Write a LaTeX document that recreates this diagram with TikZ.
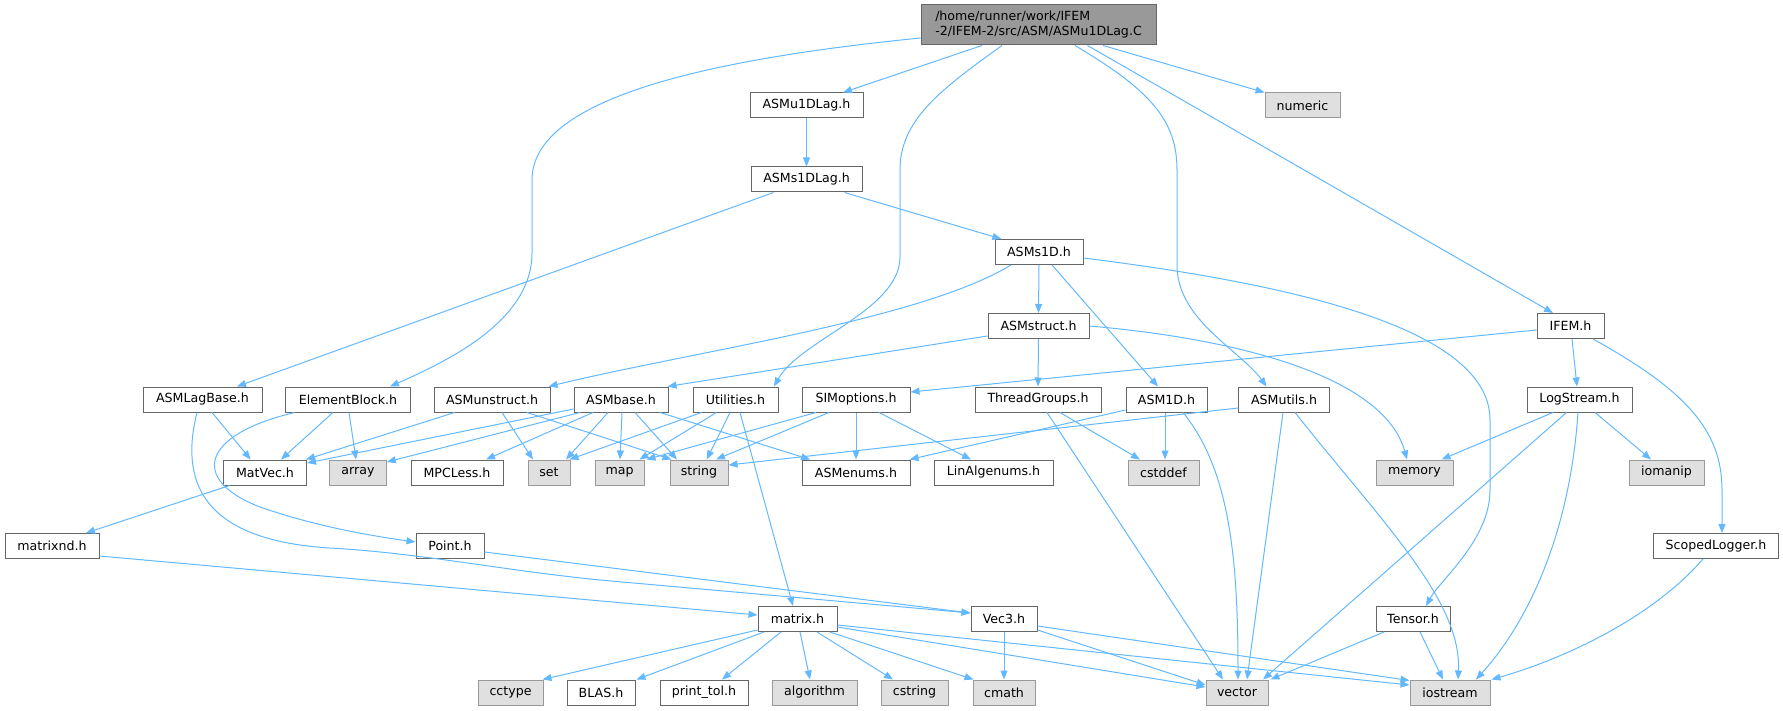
\documentclass[tikz,border=0pt]{standalone}
\usepackage{fontspec}
\setmainfont{DejaVu Sans}
\usetikzlibrary{arrows.meta}
\definecolor{edgec}{HTML}{63B8FF}
\definecolor{bordc}{HTML}{666666}
\definecolor{sysbord}{HTML}{999999}
\definecolor{sysfill}{HTML}{E0E0E0}
\definecolor{rootfill}{HTML}{999999}
\newcommand{\nodefnt}{\fontsize{12.6}{15}\selectfont}
\tikzset{
  box/.style={draw=bordc, fill=white, line width=1pt, minimum height=25pt, inner sep=0pt, font=\nodefnt, text=black},
  sysbox/.style={box, draw=sysbord, fill=sysfill},
  rootbox/.style={box, fill=rootfill, minimum height=40pt, align=left},
  e/.style={draw=edgec, line width=1pt, -{Triangle[length=9pt,width=7pt]}},
}
\begin{document}
\begin{tikzpicture}[x=1pt,y=-1pt]
\useasboundingbox (0,0) rectangle (1783,711);
% row 0
\node[rootbox, minimum width=235pt] (root) at (1038.5,25) {/home/runner/work/IFEM\\-2/IFEM-2/src/ASM/ASMu1DLag.C};
% row 1
\node[box, minimum width=113pt] (asmu) at (806.5,105.5) {ASMu1DLag.h};
\node[sysbox, minimum width=75pt] (numeric) at (1302.5,105.5) {numeric};
% row 2
\node[box, minimum width=111pt] (asms1dlag) at (806.5,179.5) {ASMs1DLag.h};
% row 3
\node[box, minimum width=88pt] (asms1d) at (1039,252) {ASMs1D.h};
% row 4
\node[box, minimum width=101pt] (asmstruct) at (1038.5,326) {ASMstruct.h};
\node[box, minimum width=67pt] (ifem) at (1570.5,326) {IFEM.h};
% row 5
\node[box, minimum width=119pt] (asmlagbase) at (202.5,399.5) {ASMLagBase.h};
\node[box, minimum width=124.5pt] (elementblock) at (348,399.5) {ElementBlock.h};
\node[box, minimum width=116pt] (asmunstruct) at (492,399.5) {ASMunstruct.h};
\node[box, minimum width=94pt] (asmbase) at (621,399.5) {ASMbase.h};
\node[box, minimum width=85pt] (utilities) at (735.5,399.5) {Utilities.h};
\node[box, minimum width=108pt] (simoptions) at (856,399.5) {SIMoptions.h};
\node[box, minimum width=126pt] (threadgroups) at (1038,399.5) {ThreadGroups.h};
\node[box, minimum width=81pt] (asm1d) at (1166.5,399.5) {ASM1D.h};
\node[box, minimum width=90.5pt] (asmutils) at (1284,399.5) {ASMutils.h};
\node[box, minimum width=105pt] (logstream) at (1579.5,399.5) {LogStream.h};
% row 6
\node[box, minimum width=83pt] (matvec) at (265,472.5) {MatVec.h};
\node[sysbox, minimum width=56.5pt] (array) at (358,472.5) {array};
\node[box, minimum width=92pt] (mpcless) at (457,472.5) {MPCLess.h};
\node[sysbox, minimum width=42pt] (set) at (549,472.5) {set};
\node[sysbox, minimum width=49pt] (map) at (619.5,472.5) {map};
\node[sysbox, minimum width=58pt] (string) at (699,472.5) {string};
\node[box, minimum width=108pt] (asmenums) at (856,472.5) {ASMenums.h};
\node[box, minimum width=119pt] (linalgenums) at (993.5,472.5) {LinAlgenums.h};
\node[sysbox, minimum width=71pt] (cstddef) at (1163.5,472.5) {cstddef};
\node[sysbox, minimum width=77pt] (memory) at (1414.5,472.5) {memory};
\node[sysbox, minimum width=75pt] (iomanip) at (1666.5,472.5) {iomanip};
% row 7
\node[box, minimum width=94pt] (matrixnd) at (52,546) {matrixnd.h};
\node[box, minimum width=68pt] (point) at (450,546) {Point.h};
\node[box, minimum width=125pt] (scopedlogger) at (1716,546) {ScopedLogger.h};
% row 8
\node[box, minimum width=79pt] (matrix) at (797.5,619) {matrix.h};
\node[box, minimum width=66pt] (vec3) at (1004,619) {Vec3.h};
\node[box, minimum width=74pt] (tensor) at (1413,619) {Tensor.h};
% row 9
\node[sysbox, minimum width=65pt] (cctype) at (510.5,692.5) {cctype};
\node[box, minimum width=68pt] (blas) at (601,692.5) {BLAS.h};
\node[box, minimum width=88pt] (printtol) at (704,692.5) {print\_tol.h};
\node[sysbox, minimum width=85pt] (algorithm) at (814.5,692.5) {algorithm};
\node[sysbox, minimum width=67pt] (cstring) at (914.5,692.5) {cstring};
\node[sysbox, minimum width=62pt] (cmath) at (1004,692.5) {cmath};
\node[sysbox, minimum width=62pt] (vector) at (1237,692.5) {vector};
\node[sysbox, minimum width=80pt] (iostream) at (1450,692.5) {iostream};

% ---- edges from root
\draw[e] ([xshift=-56.5pt]root.south) -- ([xshift=36.5pt]asmu.north);
\draw[e] ([yshift=-13pt]root.west) .. controls (700,60) and (532,100) .. (532,180) -- (532,253) .. controls (532,320) and (450,360) .. ([xshift=42pt]elementblock.north);
\draw[e] ([xshift=-36.5pt]root.south) .. controls (940,90) and (900,120) .. (900,170) -- (900,257) .. controls (900,310) and (800,340) .. ([xshift=38.5pt]utilities.north);
\draw[e] ([xshift=36.5pt]root.south) .. controls (1150,90) and (1177,120) .. (1177,170) -- (1177,265) .. controls (1177,320) and (1240,350) .. ([xshift=-17.5pt]asmutils.north);
\draw[e] ([xshift=49pt]root.south) -- ([xshift=-17.5pt]ifem.north);
\draw[e] ([xshift=64.5pt]root.south) -- ([xshift=-38pt]numeric.north);
% ---- upper chain
\draw[e] (asmu.south) -- (asms1dlag.north);
\draw[e] ([xshift=-33pt]asms1dlag.south) -- ([xshift=34.5pt]asmlagbase.north);
\draw[e] ([xshift=38pt]asms1dlag.south) -- ([xshift=-37.6pt]asms1d.north);
\draw[e] ([xshift=-28pt]asms1d.south) .. controls (920,320) and (700,350) .. ([xshift=-2pt]asmunstruct.north east);
\draw[e] (asms1d.south) -- (asmstruct.north);
\draw[e] ([xshift=13pt]asms1d.south) -- ([xshift=-8.5pt]asm1d.north);
\draw[e] ([yshift=-6pt]asms1d.east) .. controls (1300,285) and (1490,330) .. (1490,420) -- (1490,490) .. controls (1490,540) and (1440,580) .. ([xshift=13pt]tensor.north);
\draw[e] ([yshift=-10pt]asmstruct.west) -- ([xshift=-1pt]asmbase.north east);
\draw[e] (asmstruct.south) -- (threadgroups.north);
\draw[e] (asmstruct.east) .. controls (1250,340) and (1385,380) .. ([xshift=-7.5pt]memory.north);
\draw[e] ([yshift=-4pt]ifem.west) -- ([yshift=7.5pt]simoptions.east);
\draw[e] ([xshift=1.5pt]ifem.south) -- ([xshift=-2.5pt]logstream.north);
\draw[e] ([xshift=22.5pt]ifem.south) .. controls (1685,390) and (1722,430) .. (1722,490) -- ([xshift=6pt]scopedlogger.north);
% ---- row 5 sources
\draw[e] ([xshift=9.5pt]asmlagbase.south) -- ([xshift=-14.3pt]matvec.north);
\draw[e] ([xshift=-5.5pt]asmlagbase.south) .. controls (180,480) and (200,540) .. (330,548) .. controls (420,553) and (500,570) .. (600,580) -- ([yshift=6pt]vec3.west);
\draw[e] ([xshift=-15pt]elementblock.south) -- ([xshift=16pt]matvec.north);
\draw[e] ([xshift=1pt]elementblock.south) -- ([xshift=-2pt]array.north);
\draw[e] ([xshift=-53.3pt]elementblock.south) .. controls (200,435) and (190,480) .. (260,507) .. controls (320,528) and (380,537) .. ([yshift=4pt]point.west);
\draw[e] ([xshift=-37.4pt]asmunstruct.south) -- ([xshift=-1pt]matvec.north east);
\draw[e] ([xshift=10pt]asmunstruct.south) -- ([xshift=-16pt]set.north);
\draw[e] ([xshift=35pt]asmunstruct.south) -- ([xshift=2pt]string.north west);
\draw[e] ([yshift=-9.5pt]asmbase.west) -- ([yshift=9.5pt]matvec.east);
\draw[e] ([xshift=-41pt]asmbase.south) -- ([yshift=10.5pt]array.east);
\draw[e] ([xshift=-28pt]asmbase.south) -- ([xshift=29pt]mpcless.north);
\draw[e] ([xshift=-13pt]asmbase.south) -- ([xshift=17pt]set.north);
\draw[e] ([xshift=1pt]asmbase.south) -- ([xshift=0.5pt]map.north);
\draw[e] ([xshift=14pt]asmbase.south) -- ([xshift=-22pt]string.north);
\draw[e] ([xshift=39pt]asmbase.south) -- ([xshift=-46pt]asmenums.north);
\draw[e] ([xshift=-34pt]utilities.south) -- ([xshift=-1pt]set.north east);
\draw[e] ([xshift=-19pt]utilities.south) -- ([xshift=20pt]map.north);
\draw[e] ([xshift=-5.5pt]utilities.south) -- ([xshift=7.7pt]string.north);
\draw[e] ([xshift=4.5pt]utilities.south) -- ([xshift=-4.5pt]matrix.north);
\draw[e] ([xshift=-40pt]simoptions.south) -- ([xshift=2pt]map.north east);
\draw[e] ([xshift=-27pt]simoptions.south) -- ([xshift=17pt]string.north);
\draw[e] (simoptions.south) -- (asmenums.north);
\draw[e] ([xshift=23pt]simoptions.south) -- ([xshift=-22.5pt]linalgenums.north);
\draw[e] ([xshift=22pt]threadgroups.south) -- ([xshift=-23.5pt]cstddef.north);
\draw[e] ([xshift=9pt]threadgroups.south) -- ([xshift=-14pt]vector.north);
\draw[e] ([yshift=-10.5pt]asm1d.west) -- ([xshift=-1pt]asmenums.north east);
\draw[e] ([xshift=-1.5pt]asm1d.south) -- ([xshift=1.5pt]cstddef.north);
\draw[e] ([xshift=16.5pt]asm1d.south) .. controls (1230,470) and (1238,560) .. ([xshift=1pt]vector.north);
\draw[e] ([yshift=-8.5pt]asmutils.west) -- ([yshift=7.5pt]string.east);
\draw[e] ([xshift=-1pt]asmutils.south) -- ([xshift=10pt]vector.north);
\draw[e] ([xshift=11pt]asmutils.south) .. controls (1380,520) and (1462,600) .. ([xshift=8pt]iostream.north);
\draw[e] ([xshift=-26.5pt]logstream.south) -- ([xshift=27pt]memory.north);
\draw[e] ([xshift=-13pt]logstream.south) -- ([xshift=26pt]vector.north);
\draw[e] ([xshift=-1.5pt]logstream.south) .. controls (1570,530) and (1530,620) .. ([xshift=26pt]iostream.north);
\draw[e] ([xshift=15.5pt]logstream.south) -- ([xshift=-15.5pt]iomanip.north);
% ---- lower rows
\draw[e] ([xshift=-13pt]scopedlogger.south) .. controls (1650,620) and (1560,660) .. ([xshift=1pt]iostream.north east);
\draw[e] ([xshift=-35.4pt]matvec.south) -- ([xshift=34pt]matrixnd.north);
\draw[e] ([yshift=-10pt]matrixnd.east) -- ([yshift=4pt]matrix.west);
\draw[e] ([yshift=-6pt]point.east) -- ([yshift=6pt]vec3.west);
\draw[e] ([yshift=-11pt]matrix.west) -- ([xshift=-1pt]cctype.north east);
\draw[e] ([xshift=-33.5pt]matrix.south) -- ([xshift=1pt]blas.north east);
\draw[e] ([xshift=-16.5pt]matrix.south) -- ([xshift=18pt]printtol.north);
\draw[e] ([xshift=2.5pt]matrix.south) -- ([xshift=-4.5pt]algorithm.north);
\draw[e] ([xshift=19.5pt]matrix.south) -- ([xshift=-21.5pt]cstring.north);
\draw[e] ([xshift=32.5pt]matrix.south) -- ([xshift=1pt]cmath.north west);
\draw[e] ([yshift=-8pt]matrix.east) -- ([yshift=5.5pt]vector.west);
\draw[e] ([yshift=-6pt]matrix.east) -- ([yshift=7.5pt]iostream.west);
\draw[e] (vec3.south) -- (cmath.north);
\draw[e] ([yshift=-11pt]vec3.east) -- ([yshift=7.5pt]vector.west);
\draw[e] ([yshift=-7pt]vec3.east) -- ([yshift=12pt]iostream.west);
\draw[e] ([xshift=-29pt]tensor.south) -- ([xshift=2pt]vector.north east);
\draw[e] ([xshift=7pt]tensor.south) -- ([xshift=-7pt]iostream.north);
\end{tikzpicture}
\end{document}
